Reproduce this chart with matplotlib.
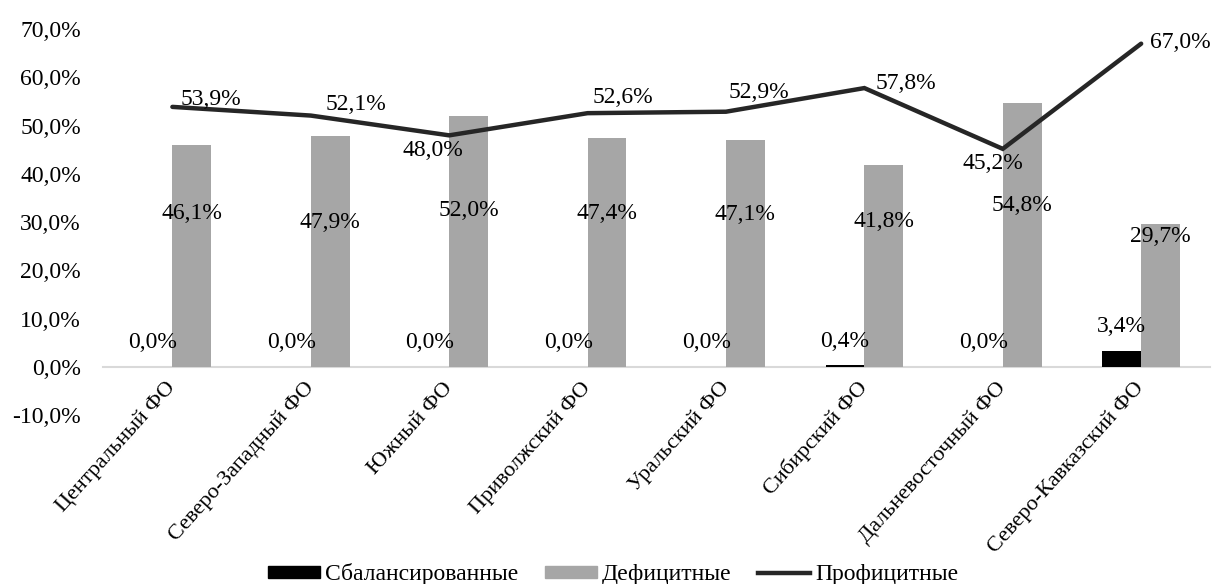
import matplotlib
matplotlib.use('Agg')
import matplotlib.pyplot as plt
from matplotlib.patches import Patch
from matplotlib.lines import Line2D
import numpy as np

plt.rcParams['font.family'] = ['Liberation Serif', 'DejaVu Serif']
plt.rcParams['font.size'] = 17

# данные
regions = ['Центральный ФО', 'Северо-Западный ФО', 'Южный ФО', 'Приволжский ФО',
           'Уральский ФО', 'Сибирский ФО', 'Дальневосточный ФО', 'Северо-Кавказский ФО']
balanced = [0.0, 0.0, 0.0, 0.0, 0.0, 0.4, 0.0, 3.4]
deficit = [46.1, 47.9, 52.0, 47.4, 47.1, 41.8, 54.8, 29.7]
surplus = [53.9, 52.1, 48.0, 52.6, 52.9, 57.8, 45.2, 67.0]

# расположение подписей (как в исходной диаграмме)
deficit_label_y = [31.9, 30.0, 32.5, 31.9, 31.5, 30.2, 33.5, 27.1]
surplus_label_offsets = [(38, 7), (45, 11), (-16, -15), (35, 16),
                         (33, 19), (42, 5), (-10, -15), (39, 1)]

def fmt(v):
    return f'{v:.1f}'.replace('.', ',') + '%'

fig = plt.figure(figsize=(12.14, 5.84), dpi=100)
ax = fig.add_axes([0.085, 0.289, 0.912, 0.661])

# ось X проходит через ноль
for s in ['top', 'right', 'left']:
    ax.spines[s].set_visible(False)
ax.spines['bottom'].set_position(('data', 0))
ax.spines['bottom'].set_color('#d9d9d9')
ax.spines['bottom'].set_linewidth(1.5)
ax.spines['bottom'].set_zorder(1)

x = np.arange(len(regions))
w = 0.28
ax.bar(x - w / 2, balanced, w, color='#000000', zorder=2)
ax.bar(x + w / 2, deficit, w, color='#a6a6a6', zorder=2)
ax.plot(x, surplus, color='#262626', lw=3.2, solid_capstyle='round',
        solid_joinstyle='miter', zorder=4)

for i in range(len(regions)):
    ax.annotate(fmt(balanced[i]), (x[i] - w / 2, balanced[i]), xytext=(0, 24),
                textcoords='offset pixels', ha='center', va='center', zorder=5)
    ax.text(x[i] + w / 2, deficit_label_y[i], fmt(deficit[i]),
            ha='center', va='center', zorder=5)
    dx, dy = surplus_label_offsets[i]
    ax.annotate(fmt(surplus[i]), (x[i], surplus[i]), xytext=(dx, dy),
                textcoords='offset pixels', ha='center', va='center', zorder=5)

ax.set_xlim(-0.5, len(regions) - 0.5)
ax.set_ylim(-10, 70)
ax.set_yticks(np.arange(-10, 71, 10))
ax.set_yticklabels([fmt(v) for v in np.arange(-10, 71, 10)])
ax.set_xticks(x)
ax.set_xticklabels(regions, rotation=48, ha='right', va='center',
                   rotation_mode='anchor', fontsize=16)
ax.tick_params(axis='y', length=0, pad=16)
ax.tick_params(axis='x', length=0, pad=13)

handles = [Patch(color='#000000'), Patch(color='#a6a6a6'),
           Line2D([0], [0], color='#262626', lw=3.2)]
fig.legend(handles, ['Сбалансированные', 'Дефицитные', 'Профицитные'],
           loc='center', bbox_to_anchor=(0.505, 0.017), ncol=3, frameon=False,
           handlelength=2.2, handleheight=0.42, handletextpad=0.2,
           columnspacing=1.15, borderaxespad=0)

fig.savefig('out.png', dpi=100)
